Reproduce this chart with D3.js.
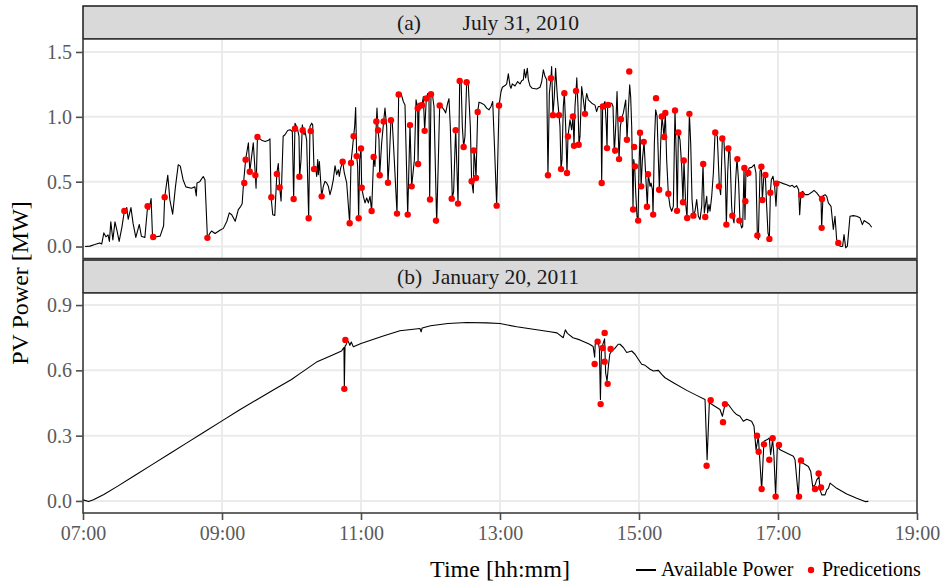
<!DOCTYPE html>
<html><head><meta charset="utf-8">
<script src="https://cdn.jsdelivr.net/npm/d3@7"></script>
<style>body{margin:0;background:#fff} svg{display:block}</style>
</head><body><svg id="c" width="946" height="585"></svg>
<script>
// ---------------- DATA ----------------
const stripTags = ["(a)", "(b)"];
const stripDates = ["July 31, 2010", "January 20, 2011"];
const xTickHours = [7, 9, 11, 13, 15, 17, 19];
const yTicksA = [0.0, 0.5, 1.0, 1.5];
const yTicksB = [0.0, 0.3, 0.6, 0.9];
const legendLabels = ["Available Power", "Predicetions"];

// Panel (a): available power, time in decimal hours
const timeA = [7.03,7.10,7.17,7.24,7.27,7.30,7.33,7.36,7.38,7.40,7.43,7.46,7.49,7.52,7.56,7.595,7.63,7.65,7.69,7.72,7.76,7.81,7.84,7.89,7.93,7.95,7.98,8.00,8.05,8.11,8.16,8.175,8.22,8.25,8.29,8.33,8.37,8.40,8.44,8.48,8.56,8.61,8.63,8.64,8.68,8.73,8.755,8.79,8.83,8.85,8.90,8.97,9.02,9.07,9.105,9.14,9.19,9.235,9.27,9.29,9.31,9.34,9.38,9.40,9.45,9.48,9.49,9.51,9.57,9.62,9.67,9.69,9.705,9.73,9.76,9.79,9.81,9.83,9.85,9.88,9.906,9.945,9.978,10.012,10.031,10.05,10.084,10.108,10.117,10.137,10.156,10.18,10.194,10.218,10.247,10.266,10.29,10.305,10.324,10.348,10.362,10.377,10.386,10.401,10.434,10.458,10.482,10.506,10.53,10.554,10.578,10.602,10.626,10.65,10.674,10.688,10.707,10.736,10.76,10.794,10.837,10.856,10.88,10.894,10.909,10.923,10.938,10.952,10.966,10.981,11.0,11.01,11.034,11.058,11.082,11.106,11.13,11.153,11.182,11.201,11.221,11.23,11.245,11.259,11.269,11.297,11.326,11.345,11.369,11.388,11.407,11.431,11.451,11.479,11.518,11.542,11.575,11.609,11.633,11.672,11.705,11.729,11.768,11.792,11.816,11.821,11.835,11.849,11.878,11.897,11.916,11.94,11.96,11.978,11.988,12.007,12.026,12.05,12.089,12.113,12.132,12.16,12.20,12.218,12.247,12.266,12.285,12.314,12.333,12.362,12.396,12.42,12.44,12.458,12.477,12.496,12.52,12.544,12.573,12.592,12.616,12.626,12.64,12.655,12.679,12.698,12.736,12.775,12.808,12.842,12.871,12.895,12.919,12.952,12.986,13.015,13.034,13.072,13.096,13.12,13.144,13.158,13.177,13.216,13.254,13.288,13.312,13.336,13.35,13.369,13.393,13.408,13.432,13.465,13.528,13.576,13.6,13.624,13.648,13.672,13.69,13.71,13.733,13.743,13.762,13.781,13.8,13.825,13.849,13.863,13.878,13.892,13.911,13.926,13.945,13.964,13.978,14.007,14.031,14.05,14.065,14.079,14.094,14.105,14.122,14.137,14.151,14.175,14.2,14.223,14.232,14.247,14.271,14.32,14.367,14.39,14.415,14.453,14.463,14.477,14.51,14.53,14.54,14.549,14.583,14.607,14.626,14.645,14.665,14.684,14.703,14.713,14.732,14.751,14.775,14.809,14.828,14.847,14.866,14.88,14.895,14.914,14.924,14.938,14.953,14.971,14.987,15.0,15.016,15.03,15.049,15.073,15.097,15.12,15.134,15.159,15.173,15.193,15.202,15.221,15.24,15.26,15.279,15.293,15.312,15.331,15.346,15.36,15.379,15.398,15.422,15.446,15.47,15.494,15.518,15.537,15.551,15.566,15.59,15.614,15.633,15.647,15.671,15.691,15.71,15.725,15.744,15.763,15.782,15.806,15.83,15.854,15.878,15.902,15.921,15.94,15.974,15.988,16.007,16.022,16.046,16.07,16.094,16.127,16.156,16.175,16.199,16.223,16.242,16.257,16.276,16.295,16.309,16.333,16.343,16.367,16.391,16.41,16.434,16.453,16.477,16.492,16.511,16.525,16.539,16.563,16.583,16.621,16.659,16.683,16.703,16.717,16.741,16.761,16.775,16.799,16.818,16.837,16.856,16.876,16.89,16.904,16.928,16.952,16.971,16.99,17.029,17.077,17.125,17.173,17.206,17.235,17.268,17.297,17.312,17.331,17.355,17.389,17.437,17.485,17.518,17.557,17.595,17.619,17.628,17.648,17.677,17.701,17.725,17.763,17.796,17.82,17.844,17.868,17.892,17.916,17.93,17.95,17.974,17.998,18.036,18.084,18.132,18.18,18.214,18.238,18.276,18.314,18.348];
const powerA = [0.00,0.003,0.015,0.028,0.02,0.105,0.075,0.09,0.04,0.19,0.05,0.19,0.12,0.04,0.15,0.274,0.30,0.21,0.30,0.18,0.07,0.17,0.08,0.07,0.31,0.285,0.37,0.08,0.075,0.08,0.16,0.38,0.55,0.36,0.25,0.46,0.63,0.62,0.515,0.46,0.45,0.46,0.39,0.49,0.50,0.54,0.515,0.07,0.105,0.12,0.10,0.125,0.14,0.195,0.26,0.245,0.195,0.285,0.31,0.33,0.49,0.67,0.80,0.577,0.80,0.55,0.45,0.845,0.82,0.81,0.82,0.83,0.39,0.245,0.24,0.57,0.64,0.456,0.35,0.85,0.862,0.895,0.9,0.887,0.367,0.951,0.913,0.849,0.538,0.67,0.938,0.862,0.887,0.823,0.218,0.926,0.951,0.938,0.597,0.618,0.541,0.67,0.554,0.656,0.387,0.464,0.503,0.49,0.464,0.4,0.451,0.515,0.623,0.554,0.592,0.541,0.605,0.654,0.567,0.49,0.179,0.644,0.772,0.851,0.926,1.072,0.697,0.618,0.218,0.669,0.756,0.454,0.387,0.336,0.374,0.336,0.387,0.274,0.69,0.618,0.964,1.067,0.897,0.823,0.549,0.797,0.964,1.067,0.926,0.492,0.669,0.974,0.951,0.669,0.254,1.172,1.182,1.118,1.092,0.246,0.936,0.464,0.669,1.131,1.067,0.636,1.054,1.085,1.09,1.156,0.892,1.141,1.18,1.17,0.36,1.17,1.18,1.08,0.18,0.67,1.087,1.08,1.05,1.03,1.105,1.14,0.926,0.374,0.426,0.913,0.331,1.277,1.28,0.926,0.767,0.85,1.267,1.246,0.926,0.503,0.413,0.741,0.67,0.528,1.038,1.113,1.105,1.092,1.067,1.054,1.08,1.118,0.797,0.315,1.087,1.195,1.228,1.241,1.254,1.331,1.238,1.22,1.254,1.238,1.272,1.254,1.279,1.285,1.367,1.3,1.374,1.285,1.238,1.22,1.215,1.228,1.272,1.362,1.31,1.285,0.549,1.18,1.297,1.387,1.013,1.156,1.374,1.156,1.013,0.926,0.597,0.67,1.08,1.182,0.926,0.567,0.849,0.977,0.9,1.003,0.777,1.08,1.2,1.30,1.08,0.785,0.849,1.233,1.13,1.023,1.126,1.18,1.13,1.105,1.09,1.04,1.08,1.08,0.49,1.08,1.118,0.926,0.759,1.08,1.105,1.105,1.08,0.72,0.926,1.195,0.849,0.67,0.926,0.99,1.03,1.13,0.823,1.054,1.246,1.156,0.926,0.285,0.67,0.618,0.413,0.233,0.2,0.618,0.879,0.464,0.669,0.805,0.541,0.305,0.559,0.464,0.49,0.438,0.246,0.797,1.054,1.003,0.669,0.438,0.797,1.003,0.926,0.844,1.028,0.669,0.408,0.31,0.272,0.31,1.054,0.669,0.274,0.882,0.823,0.618,0.341,0.664,0.336,0.218,0.669,1.023,0.797,0.362,0.238,0.272,0.362,0.233,0.208,0.31,0.636,0.259,0.387,0.259,0.323,0.272,0.387,0.567,0.874,0.849,0.464,0.4,0.833,0.81,0.567,0.169,0.567,0.772,0.721,0.31,0.238,0.182,0.515,0.682,0.49,0.195,0.144,0.156,0.592,0.208,0.582,0.541,0.605,0.61,0.631,0.567,0.085,0.054,0.579,0.615,0.359,0.567,0.541,0.31,0.105,0.059,0.415,0.515,0.541,0.464,0.31,0.503,0.495,0.485,0.477,0.464,0.472,0.456,0.469,0.438,0.246,0.413,0.426,0.4,0.4,0.418,0.433,0.413,0.387,0.374,0.144,0.392,0.4,0.387,0.336,0.31,0.131,0.233,0.054,0.028,0.003,0.0,0.003,0.092,-0.01,0.003,0.233,0.238,0.233,0.221,0.169,0.2,0.187,0.174,0.149];

// Panel (a): predictions
const predTimeA = [7.595,7.93,8.01,8.175,8.79,9.32,9.34,9.40,9.48,9.51,9.71,9.79,9.83,10.031,10.05,10.113,10.161,10.247,10.276,10.324,10.434,10.736,10.837,10.856,10.894,10.938,10.966,11.0,11.01,11.153,11.182,11.221,11.245,11.269,11.326,11.388,11.431,11.518,11.542,11.672,11.705,11.729,11.816,11.821,11.849,11.878,11.916,11.94,11.993,12.007,12.079,12.132,12.305,12.362,12.396,12.42,12.477,12.52,12.592,12.621,12.655,12.679,12.952,12.986,13.69,13.733,13.762,13.849,13.878,13.926,13.964,13.978,14.05,14.065,14.094,14.132,14.223,14.463,14.48,14.54,14.555,14.657,14.713,14.74,14.826,14.86,14.916,14.93,14.943,14.988,15.015,15.032,15.068,15.115,15.13,15.204,15.245,15.29,15.328,15.362,15.379,15.422,15.518,15.547,15.566,15.634,15.644,15.693,15.725,15.782,15.924,15.953,16.097,16.15,16.199,16.257,16.285,16.343,16.415,16.444,16.516,16.53,16.573,16.703,16.761,16.775,16.818,16.876,16.89,16.976,17.336,17.633,17.628,17.868];
const predA = [0.274,0.31,0.074,0.38,0.067,0.49,0.67,0.577,0.55,0.845,0.38,0.56,0.456,0.367,0.908,0.538,0.897,0.218,0.89,0.597,0.387,0.654,0.179,0.644,0.851,0.697,0.218,0.756,0.454,0.274,0.69,0.964,0.897,0.549,0.964,0.492,0.974,0.254,1.172,0.246,0.936,0.464,1.067,0.636,1.085,1.09,0.892,1.141,0.362,1.174,0.20,1.087,0.369,0.897,0.331,1.277,0.767,1.267,0.503,0.741,0.528,1.038,0.315,1.087,0.549,1.297,1.013,1.013,0.597,1.182,0.567,0.849,1.003,0.777,1.2,0.785,1.023,0.49,1.08,0.759,1.092,0.74,0.674,0.982,0.823,1.35,0.285,0.767,0.618,0.2,0.877,0.464,0.807,0.307,0.558,0.246,1.144,0.438,1.003,0.844,1.03,0.407,1.049,0.275,0.88,0.341,0.663,0.22,1.023,0.238,0.636,0.228,0.88,0.464,0.833,0.169,0.756,0.238,0.674,0.2,0.605,0.349,0.567,0.085,0.615,0.359,0.551,0.059,0.415,0.485,0.397,0.367,0.144,0.028];

// Panel (b): available power
const timeB = [7.0,7.08,7.15,7.3,7.5,7.75,8.0,8.25,8.5,8.75,9.0,9.25,9.5,9.75,10.0,10.12,10.36,10.6,10.72,10.743,10.755,10.76,10.77,10.79,10.8,10.82,10.84,10.86,10.89,11.0,11.32,11.56,11.85,11.865,11.88,12.0,12.25,12.52,12.81,13.0,13.24,13.48,13.72,13.82,13.91,13.94,13.97,14.05,14.15,14.29,14.34,14.362,14.37,14.39,14.41,14.43,14.445,14.46,14.49,14.505,14.52,14.54,14.56,14.58,14.61,14.65,14.7,14.727,14.775,14.823,14.895,14.943,14.99,15.039,15.087,15.159,15.207,15.279,15.327,15.375,15.495,15.687,15.83,15.95,15.98,16.012,16.165,16.2,16.237,16.285,16.357,16.405,16.453,16.501,16.55,16.62,16.655,16.684,16.717,16.765,16.798,16.846,16.875,16.894,16.923,16.942,16.966,16.99,17.03,17.125,17.221,17.245,17.293,17.317,17.355,17.437,17.471,17.5,17.533,17.557,17.59,17.605,17.629,17.677,17.701,17.725,17.749,17.845,17.989,18.133,18.253,18.3];
const powerB = [0.005,-0.003,0.005,0.03,0.068,0.118,0.168,0.218,0.268,0.318,0.368,0.418,0.465,0.512,0.558,0.585,0.638,0.672,0.689,0.70,0.705,0.515,0.71,0.72,0.735,0.731,0.715,0.73,0.708,0.723,0.758,0.782,0.792,0.777,0.795,0.805,0.815,0.82,0.818,0.815,0.80,0.789,0.777,0.772,0.75,0.786,0.77,0.75,0.74,0.72,0.71,0.66,0.72,0.743,0.735,0.70,0.466,0.70,0.73,0.745,0.589,0.55,0.62,0.675,0.69,0.70,0.72,0.72,0.705,0.682,0.689,0.674,0.651,0.628,0.623,0.605,0.597,0.60,0.582,0.566,0.543,0.508,0.485,0.466,0.189,0.451,0.42,0.389,0.443,0.443,0.412,0.397,0.389,0.366,0.375,0.366,0.343,0.235,0.297,0.051,0.274,0.282,0.289,0.212,0.282,0.205,0.02,0.251,0.235,0.22,0.205,0.189,0.02,0.189,0.174,0.158,0.135,0.066,0.074,0.097,0.112,0.051,0.028,0.028,0.051,0.058,0.082,0.058,0.032,0.012,-0.003,-0.002];

// Panel (b): predictions
const predTimeB = [10.76,10.775,14.362,14.405,14.448,14.477,14.506,14.506,14.549,14.592,15.973,16.031,16.209,16.237,16.698,16.722,16.765,16.798,16.875,16.923,16.966,17.014,17.302,17.331,17.533,17.585,17.619];
const predB = [0.515,0.74,0.629,0.732,0.445,0.703,0.772,0.64,0.538,0.698,0.162,0.463,0.362,0.445,0.30,0.226,0.055,0.26,0.189,0.288,0.02,0.257,0.02,0.186,0.055,0.126,0.062];

// ---------------- DRAW ----------------
const svg = d3.select("#c");
const FONT = "'Liberation Serif','Times New Roman',serif";
const left = 83, right = 917;
const x = d3.scaleLinear().domain([7, 19]).range([left, right]);
const fmtHour = h => String(Math.floor(h)).padStart(2, "0") + ":" + String(Math.round((h % 1) * 60)).padStart(2, "0");

const panels = [
  {stripTop: 6, top: 39, bottom: 258.5, domain: [-0.0923, 1.6], ticks: yTicksA,
   line: timeA.map((t, i) => [t, powerA[i]]), pts: predTimeA.map((t, i) => [t, predA[i]])},
  {stripTop: 260, top: 293, bottom: 513, domain: [-0.0554, 0.9554], ticks: yTicksB,
   line: timeB.map((t, i) => [t, powerB[i]]), pts: predTimeB.map((t, i) => [t, predB[i]])}
];

panels.forEach((p, k) => {
  const y = d3.scaleLinear().domain(p.domain).range([p.bottom, p.top]);
  const g = svg.append("g");
  // strip
  g.append("rect").attr("x", left).attr("y", p.stripTop).attr("width", right - left)
    .attr("height", p.top - p.stripTop).attr("fill", "#d9d9d9").attr("stroke", "#1a1a1a").attr("stroke-width", 1.5);
  const sy = (p.stripTop + p.top) / 2 + 7;
  g.append("text").attr("x", 397).attr("y", sy).attr("font-family", FONT).attr("font-size", 21.5)
    .attr("fill", "#1a1a1a").text(stripTags[k]);
  g.append("text").attr("x", 579).attr("y", sy).attr("text-anchor", "end").attr("font-family", FONT)
    .attr("font-size", 21.5).attr("fill", "#1a1a1a").text(stripDates[k]);
  // panel bg
  g.append("rect").attr("x", left).attr("y", p.top).attr("width", right - left)
    .attr("height", p.bottom - p.top).attr("fill", "#fff");
  // grid
  g.selectAll(".gy").data(p.ticks).join("line")
    .attr("x1", left).attr("x2", right).attr("y1", d => y(d)).attr("y2", d => y(d))
    .attr("stroke", "#ebebeb").attr("stroke-width", 2);
  g.selectAll(".gx").data(xTickHours).join("line")
    .attr("x1", d => x(d)).attr("x2", d => x(d)).attr("y1", p.top).attr("y2", p.bottom)
    .attr("stroke", "#ebebeb").attr("stroke-width", 2);
  // clip
  const cid = "clip" + k;
  svg.append("clipPath").attr("id", cid).append("rect")
    .attr("x", left).attr("y", p.top).attr("width", right - left).attr("height", p.bottom - p.top);
  const gc = g.append("g").attr("clip-path", `url(#${cid})`);
  gc.append("path").datum(p.line)
    .attr("d", d3.line().x(d => x(d[0])).y(d => y(d[1])))
    .attr("fill", "none").attr("stroke", "#000").attr("stroke-width", 1.1).attr("stroke-linejoin", "round");
  gc.selectAll("circle").data(p.pts).join("circle")
    .attr("cx", d => x(d[0])).attr("cy", d => y(d[1])).attr("r", 3.2).attr("fill", "#ff0000");
  // border
  g.append("rect").attr("x", left).attr("y", p.top).attr("width", right - left)
    .attr("height", p.bottom - p.top).attr("fill", "none").attr("stroke", "#333").attr("stroke-width", 1.5);
  // y axis
  const ya = g.append("g").attr("transform", `translate(${left},0)`)
    .call(d3.axisLeft(y).tickValues(p.ticks).tickFormat(d3.format(".1f")).tickSize(7).tickPadding(4));
  ya.select(".domain").remove();
  ya.selectAll("line").attr("stroke", "#4d4d4d").attr("stroke-width", 1.6);
  ya.selectAll("text").attr("font-family", FONT).attr("font-size", 20).attr("fill", "#5a5a5a");
  if (k === 1) {
    const xa = g.append("g").attr("transform", `translate(0,${p.bottom})`)
      .call(d3.axisBottom(x).tickValues(xTickHours).tickFormat(fmtHour).tickSize(7).tickPadding(6));
    xa.select(".domain").remove();
    xa.selectAll("line").attr("stroke", "#4d4d4d").attr("stroke-width", 1.6);
    xa.selectAll("text").attr("font-family", FONT).attr("font-size", 20).attr("fill", "#5a5a5a");
  }
});

// axis titles
svg.append("text").attr("transform", "translate(28,283) rotate(-90)").attr("text-anchor", "middle")
  .attr("font-family", FONT).attr("font-size", 24).attr("fill", "#000").text("PV Power [MW]");
svg.append("text").attr("x", 500).attr("y", 577).attr("text-anchor", "middle")
  .attr("font-family", FONT).attr("font-size", 24).attr("fill", "#000").text("Time [hh:mm]");

// legend
const lg = svg.append("g");
lg.append("line").attr("x1", 636).attr("x2", 656).attr("y1", 570).attr("y2", 570).attr("stroke", "#000").attr("stroke-width", 2);
lg.append("text").attr("x", 661).attr("y", 576).attr("font-family", FONT).attr("font-size", 20).text(legendLabels[0]);
lg.append("circle").attr("cx", 811).attr("cy", 570).attr("r", 3.2).attr("fill", "#ff0000");
lg.append("text").attr("x", 822).attr("y", 576).attr("font-family", FONT).attr("font-size", 20).text(legendLabels[1]);
</script></body></html>
